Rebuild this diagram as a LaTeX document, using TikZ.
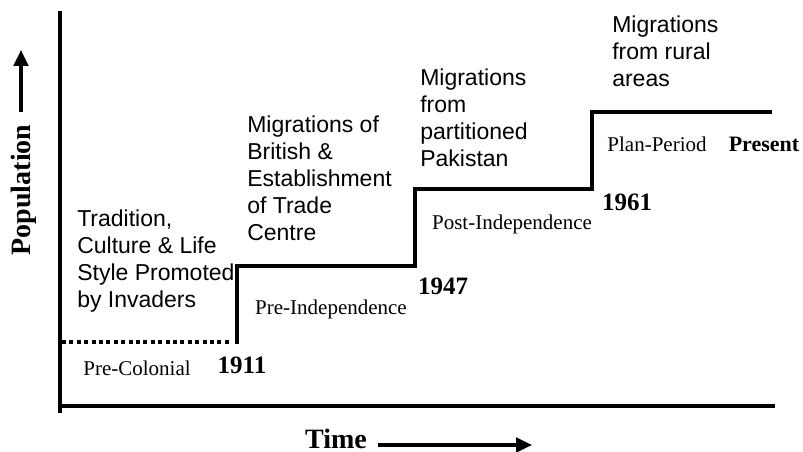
\documentclass[tikz,border=0pt]{standalone}
\usepackage{fontspec}
\setmainfont{Liberation Serif}
\newfontfamily\notefont{Liberation Sans}
\usetikzlibrary{arrows.meta}

\begin{document}
\begin{tikzpicture}[x=0.75pt,y=-0.75pt,
    axisline/.style={line width=3pt},
    stepline/.style={line width=3pt},
    era/.style={inner sep=0pt,anchor=base,font=\fontsize{15.75}{18}\selectfont},
    year/.style={inner sep=0pt,anchor=base,font=\fontsize{18.75}{21}\selectfont\bfseries},
    note/.style={inner sep=0pt,anchor=north west,align=left,font=\notefont\fontsize{17.25}{20.25}\selectfont},
    axistitle/.style={inner sep=0pt,anchor=base,font=\fontsize{21}{24}\selectfont\bfseries},
    dirarrow/.style={line width=2.4pt,-{Triangle[length=12pt,width=11pt]}}]
  \useasboundingbox (0,0) rectangle (803,452);

  % axes
  \draw[axisline] (60,11) -- (60,413);
  \draw[axisline] (58,406) -- (775,406);

  % growth curve: dotted before 1911, then steps
  \draw[line width=3pt,dash pattern=on 3pt off 2.55pt] (62,342) -- (232,342);
  \draw[stepline] (237,344) -- (237,266) -- (415,266) -- (415,189)
    -- (592,189) -- (592,112) -- (772,112);

  % axis titles
  \node[axistitle,rotate=90] (popn) at (31,190) {Population};
  \node[axistitle] (time) at (336,448) {Time};
  \coordinate (poptail) at (21,112);
  \coordinate (poptip) at (21,50);
  \coordinate (timetail) at (378,445);
  \coordinate (timetip) at (532,445);
  \draw[dirarrow] (poptail) -- (poptip);
  \draw[dirarrow] (timetail) -- (timetip);

  % periods
  \node[era] (precol) at (137,375) {Pre-Colonial};
  \node[era] (preind) at (331,315) {Pre-Independence};
  \node[era] (postind) at (512,230) {Post-Independence};
  \node[era] (plan) at (657,152) {Plan-Period};

  % years
  \node[year] (y1911) at (242,373) {1911};
  \node[year] (y1947) at (443,295) {1947};
  \node[year] (y1961) at (627,211) {1961};
  \node[year,font=\fontsize{16.5}{19}\selectfont\bfseries] (present) at (764,152) {Present};

  % what drove each step
  \node[note] (invaders) at (77,210) {Tradition,\\Culture \& Life\\Style Promoted\\by Invaders};
  \node[note] (british) at (247,116) {Migrations of\\British \&\\Establishment\\of Trade\\Centre};
  \node[note] (partition) at (420,69) {Migrations\\from\\partitioned\\Pakistan};
  \node[note] (rural) at (612,16) {Migrations\\from rural\\areas};
\end{tikzpicture}
\end{document}
